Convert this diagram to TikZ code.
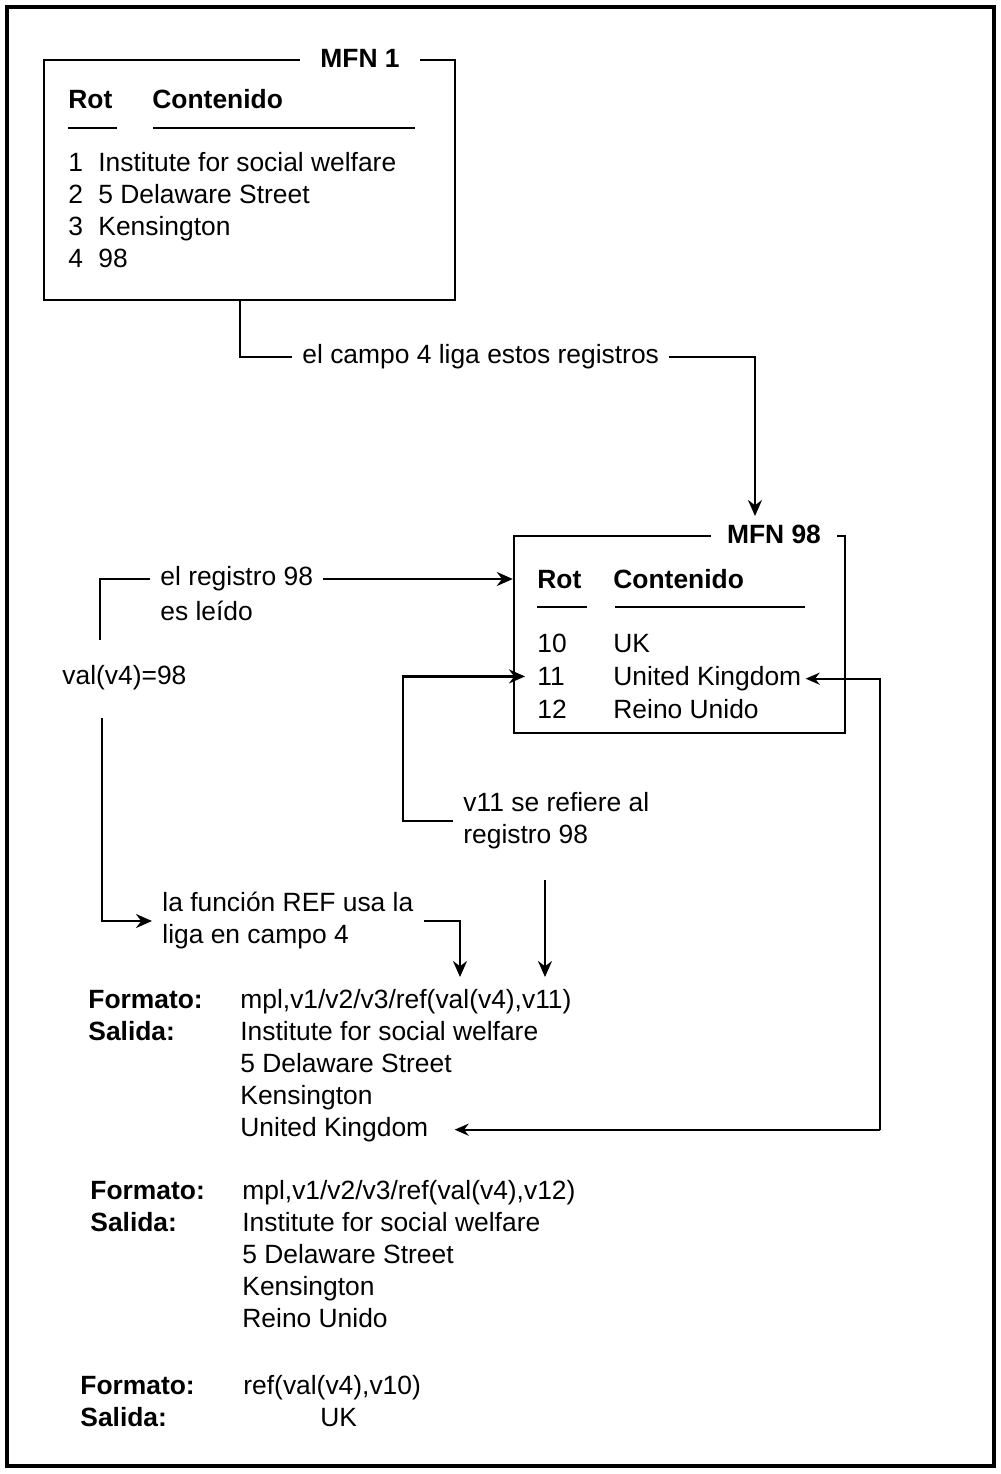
\documentclass[tikz,border=0pt]{standalone}
\usepackage{fontspec}
\setmainfont{Liberation Sans}
\usetikzlibrary{arrows.meta,positioning}

\begin{document}
\begin{tikzpicture}[x=0.5pt, y=-0.5pt, font=\fontsize{13.2}{16}\selectfont,
    txt/.style = {anchor=base west, inner sep=0pt},
    hd/.style = {txt, font=\fontsize{13.2}{16}\selectfont\bfseries},
    lbl/.style = {anchor=west, inner xsep=5pt, inner ysep=2pt, align=left},
    rec/.style = {draw, line width=1.2pt, inner sep=0pt},
    ttl/.style = {fill=white, inner xsep=10pt, font=\fontsize{13.2}{16}\selectfont\bfseries},
    ln/.style = {line width=1.1pt},
    arr/.style = {ln, -{Stealth[length=8pt, width=7pt]}}]
  \useasboundingbox (0,0) rectangle (1001,1474);
  \draw[line width=1.6pt] (7,7) rectangle (994,1466);

  % registro MFN 1
  \node[rec, minimum width=205.5pt, minimum height=120pt] (box1) at (249.5,180) {};
  \node[ttl] (t1) at (box1.north -| 360,0) {MFN 1};
  \node[hd] (rot1) at (68,108.5) {Rot};
  \node[hd] (con1) at (152,108.5) {Contenido};
  \draw[ln] (68,128) -- (117,128);
  \draw[ln] (153,128) -- (415,128);
  \foreach \n/\t in {1/Institute for social welfare, 2/5 Delaware Street, 3/Kensington, 4/98} {
    \node[txt] (a\n) at (68,139.5+32*\n) {\n};
    \node[txt] (b\n) at (98,139.5+32*\n) {\t};
  }

  % registro MFN 98
  \node[rec, minimum width=165.5pt, minimum height=98.5pt] (box98) at (679.5,634.5) {};
  \node[ttl, inner xsep=8pt] (t98) at (box98.north -| 774,0) {MFN 98};
  \node[hd] (rot98) at (537,588.5) {Rot};
  \node[hd] (con98) at (613,588.5) {Contenido};
  \draw[ln] (537,607) -- (587,607);
  \draw[ln] (615,607) -- (805,607);
  \foreach \n/\t [count=\i] in {10/UK, 11/United Kingdom, 12/Reino Unido} {
    \node[txt] (n\n) at (537,619.5+33*\i) {\n};
    \node[txt] (k\n) at (613,619.5+33*\i) {\t};
  }

  % liga entre registros
  \node[lbl] (campo) at (292,357) {el campo 4 liga estos registros};
  \coordinate (tip98) at (755,516);
  \draw[ln] (box1.south -| 240,0) |- (campo.west);
  \draw[arr] (campo.east) -| (tip98);

  % lectura
  \node[lbl] (reg1) at (150,579) {el registro 98};
  \node[lbl] (reg2) at (150,611) {es leído};
  \node[lbl, inner xsep=0pt] (val) at (62,678) {val(v4)=98};
  \coordinate (vtop) at (100,640);
  \coordinate (vbot) at (102,718);
  \draw[ln] (vtop) |- (reg1.west);
  \draw[arr] (reg1.east) -- (reg1.east -| box98.west);

  \node[lbl] (fun) at (152,921) {la función REF usa la\\liga en campo 4};
  \coordinate (tipF) at (460,977);
  \draw[arr] (vbot) |- (fun.west);
  \draw[arr] (fun.east) -| (tipF);

  \node[lbl] (v11) at (453,821) {v11 se refiere al\\registro 98};
  \draw[arr, shorten >=6pt] (v11.west) -- ++(-50,0) |- (n11.west);
  \coordinate (v11b) at (545,880);
  \coordinate (tipV) at (545,977);
  \draw[arr] (v11b) -- (tipV);

  % formatos y salidas
  \node[hd] (f1) at (88,1008.5) {Formato:};
  \node[txt] (c1) at (240,1008.5) {mpl,v1/v2/v3/ref(val(v4),v11)};
  \node[hd] (s1) at (88,1040.5) {Salida:};
  \foreach \t [count=\i] in {Institute for social welfare, 5 Delaware Street, Kensington, United Kingdom}
    \node[txt] (o\i) at (240,1008.5+32*\i) {\t};

  \node[hd] (f2) at (90,1199.5) {Formato:};
  \node[txt] (c2) at (242,1199.5) {mpl,v1/v2/v3/ref(val(v4),v12)};
  \node[hd] (s2) at (90,1231.5) {Salida:};
  \foreach \t [count=\i] in {Institute for social welfare, 5 Delaware Street, Kensington, Reino Unido}
    \node[txt] (p\i) at (242,1199.5+32*\i) {\t};

  \node[hd] (f3) at (80,1394.5) {Formato:};
  \node[txt] (c3) at (243,1394.5) {ref(val(v4),v10)};
  \node[hd] (s3) at (80,1426.5) {Salida:};
  \node[txt] (q1) at (320,1426.5) {UK};

  \coordinate (rc) at (880,1130);
  \draw[ln, {Stealth[length=7pt, width=6pt]}-{Stealth[length=7pt, width=6pt]}, shorten <=2pt, shorten >=13pt]
    (k11.east) -| (rc) |- (o4.east);
\end{tikzpicture}
\end{document}
